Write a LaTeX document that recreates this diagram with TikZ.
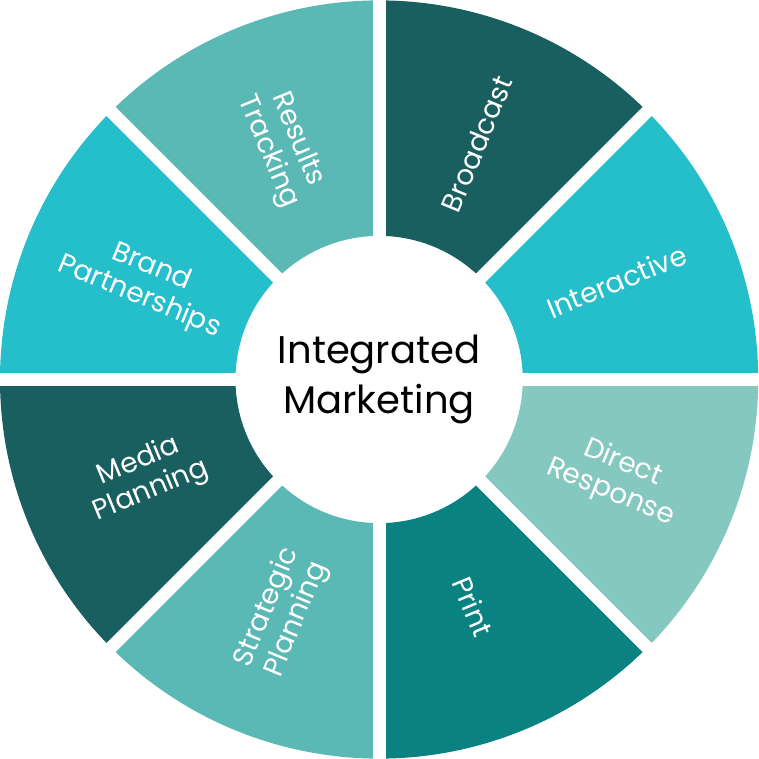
\documentclass[tikz,border=0pt]{standalone}
\usepackage{fontspec}
\setmainfont{Poppins}
\definecolor{tealDark}{HTML}{1A5F5F}
\definecolor{tealBright}{HTML}{25BECB}
\definecolor{tealPale}{HTML}{84C8BF}
\definecolor{tealDeep}{HTML}{0A8282}
\definecolor{tealMid}{HTML}{5AB8B5}
\begin{document}
\begin{tikzpicture}[segStyle/.style={fill=#1}, labelStyle/.style={text=white, align=center, font=\fontsize{21}{24}\selectfont, inner sep=0pt}, gapStyle/.style={white, line width=0.34cm}]
                    \useasboundingbox (-10.03,-10.04) rectangle (10.03,10.04);
                    % segments
                    \fill[segStyle=tealDark]   (90:10.03)  arc (90:45:10.03)   -- (45:3.8)   arc (45:90:3.8)   -- cycle;
                    \fill[segStyle=tealBright] (45:10.03)  arc (45:0:10.03)    -- (0:3.8)    arc (0:45:3.8)    -- cycle;
                    \fill[segStyle=tealPale]   (0:10.03)   arc (0:-45:10.03)   -- (-45:3.8)  arc (-45:0:3.8)   -- cycle;
                    \fill[segStyle=tealDeep]   (-45:10.03) arc (-45:-90:10.03) -- (-90:3.8)  arc (-90:-45:3.8) -- cycle;
                    \fill[segStyle=tealMid]    (-90:10.03) arc (-90:-135:10.03) -- (-135:3.8) arc (-135:-90:3.8) -- cycle;
                    \fill[segStyle=tealDark]   (-135:10.03) arc (-135:-180:10.03) -- (-180:3.8) arc (-180:-135:3.8) -- cycle;
                    \fill[segStyle=tealBright] (180:10.03) arc (180:135:10.03) -- (135:3.8) arc (135:180:3.8) -- cycle;
                    \fill[segStyle=tealMid]    (135:10.03) arc (135:90:10.03)  -- (90:3.8)  arc (90:135:3.8)  -- cycle;

                    % gaps
                    \draw[gapStyle] (0:3) -- (0:10.2);
                    \draw[gapStyle] (45:3) -- (45:10.2);
                    \draw[gapStyle] (90:3) -- (90:10.2);
                    \draw[gapStyle] (135:3) -- (135:10.2);
                    \draw[gapStyle] (180:3) -- (180:10.2);
                    \draw[gapStyle] (225:3) -- (225:10.2);
                    \draw[gapStyle] (270:3) -- (270:10.2);
                    \draw[gapStyle] (315:3) -- (315:10.2);

                    % labels
                    \node[labelStyle, rotate=67.5]  (broadcast)   at (67.5:6.75)   {Broadcast};
                    \node[labelStyle, rotate=22.5]  (interactive) at (22.5:6.8)    {Interactive};
                    \node[labelStyle, rotate=-22.5] (direct)      at (-22.5:6.8)   {Direct\\Response};
                    \node[labelStyle, rotate=-67.5] (print)       at (-67.5:6.5)   {Print};
                    \node[labelStyle, rotate=67.5]  (strategic)   at (-112.5:6.7)  {Strategic\\Planning};
                    \node[labelStyle, rotate=22.5]  (media)       at (-157.5:6.7)  {Media\\Planning};
                    \node[labelStyle, rotate=-22.5] (brand)       at (157.5:6.7)   {Brand\\Partnerships};
                    \node[labelStyle, rotate=-67.5] (results)     at (112.5:6.7)   {Results\\Tracking};

                    \node[align=center, font=\fontsize{29}{37}\selectfont] (center) at (0,0) {Integrated\\Marketing};
                \end{tikzpicture}
\end{document}
